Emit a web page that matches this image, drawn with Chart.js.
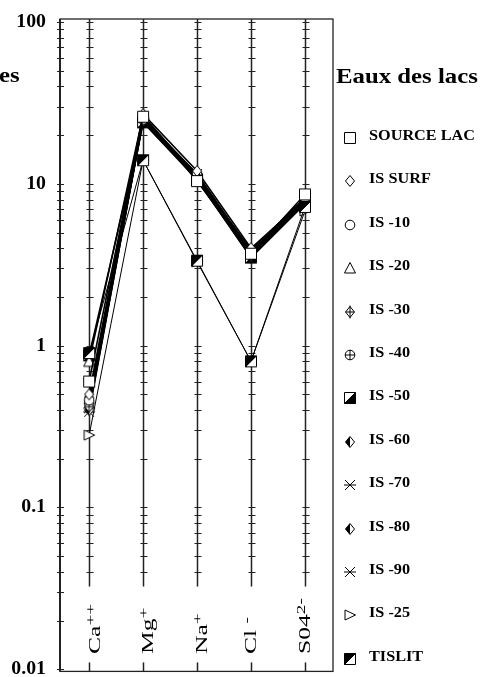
<!DOCTYPE html>
<html>
<head>
<meta charset="utf-8">
<script src="https://cdn.jsdelivr.net/npm/chart.js@4.4.0/dist/chart.umd.min.js"></script>
<style>
  html, body { margin: 0; padding: 0; background: #fff; }
  canvas { display: block; }
</style>
</head>
<body>
<canvas id="schoeller" width="483" height="677"></canvas>
<script>
// ions along the bottom (base text + superscript)
var ions = ['Ca++', 'Mg+', 'Na+', 'Cl -', 'S04 2-'];
var ionBase = ['Ca', 'Mg', 'Na', 'Cl ', 'S04'];
var ionSup = ['++', '+', '+', '-', '2-'];

// decade labels of the log axis
var yLabelValues = [100, 10, 1, 0.1, 0.01];
var yLabels = ['100', '10', '1', '0.1', '0.01'];

var seriesNames = ['SOURCE LAC', 'IS SURF', 'IS -10', 'IS -20', 'IS -30', 'IS -40',
  'IS -50', 'IS -60', 'IS -70', 'IS -80', 'IS -90', 'IS -25', 'TISLIT'];

// values per ion: Ca, Mg, Na, Cl, SO4
var sourceLac = [0.6, 26, 10.4, 3.7, 8.6];
var isSurf = [0.5, 27, 12, 4.0, 8.0];
var is10 = [0.46, 25, 11.5, 3.8, 7.8];
var is20 = [0.8, 26.5, 11, 3.9, 8.2];
var is30 = [0.42, 24.5, 11.2, 3.6, 7.7];
var is40 = [0.44, 25, 10.8, 3.7, 7.9];
var is50 = [0.87, 24, 10.6, 3.5, 7.6];
var is60 = [0.4, 24.5, 11, 3.6, 7.8];
var is70 = [0.41, 25.5, 11.5, 3.8, 8.0];
var is80 = [0.48, 24, 10.8, 3.5, 7.5];
var is90 = [0.39, 25, 11, 3.7, 7.7];
var is25 = [0.28, 14, 3.3, 0.8, 6.8];
var tislit = [0.9, 14, 3.35, 0.8, 7.2];

var seriesValues = [sourceLac, isSurf, is10, is20, is30, is40, is50, is60, is70, is80, is90, is25, tislit];
var seriesMarkers = ['square', 'diamond', 'circle', 'triangle', 'diamondPlus', 'circlePlus',
  'squareHalfLR', 'diamondHalf', 'asterisk', 'diamondHalf', 'asterisk', 'triangleRight', 'squareHalfUL'];

// minor ticks of the log axis (1..9 x 10^n)
var tickValues = [];
for (var n = -2; n <= 1; n++) {
  for (var k = 1; k <= 9; k++) tickValues.push(k * Math.pow(10, n));
}
tickValues.push(100);

var serif = '"Liberation Serif", "DejaVu Serif", serif';

function makeMarker(kind) {
  var c = document.createElement('canvas');
  c.width = 14; c.height = 14;
  var g = c.getContext('2d');
  g.strokeStyle = '#000';
  g.fillStyle = '#fff';
  g.lineWidth = 1;
  function poly(pts) {
    g.beginPath();
    g.moveTo(pts[0][0], pts[0][1]);
    for (var i = 1; i < pts.length; i++) g.lineTo(pts[i][0], pts[i][1]);
    g.closePath();
  }
  function seg(x1, y1, x2, y2) { g.beginPath(); g.moveTo(x1, y1); g.lineTo(x2, y2); g.stroke(); }
  var sq = [[1.5, 1.5], [12.5, 1.5], [12.5, 12.5], [1.5, 12.5]];
  var dia = [[7, 1.5], [11.5, 7], [7, 12.5], [2.5, 7]];
  if (kind === 'square') { poly(sq); g.fill(); g.stroke(); }
  if (kind === 'diamond') { poly(dia); g.fill(); g.stroke(); }
  if (kind === 'circle') { g.beginPath(); g.arc(7, 7, 4.8, 0, Math.PI * 2); g.fill(); g.stroke(); }
  if (kind === 'triangle') { poly([[7, 1.5], [12.5, 12], [1.5, 12]]); g.fill(); g.stroke(); }
  if (kind === 'triangleRight') { poly([[2, 2], [12.5, 7], [2, 12]]); g.fill(); g.stroke(); }
  if (kind === 'diamondPlus') {
    poly(dia); g.fill(); g.stroke();
    seg(7, 0.5, 7, 13.5); seg(2.5, 7, 11.5, 7);
  }
  if (kind === 'circlePlus') {
    g.beginPath(); g.arc(7, 7, 4.8, 0, Math.PI * 2); g.fill(); g.stroke();
    seg(7, 2, 7, 12); seg(2, 7, 12, 7);
  }
  if (kind === 'squareHalfLR' || kind === 'squareHalfUL') {
    poly(sq); g.fill();
    g.fillStyle = '#000';
    if (kind === 'squareHalfLR') poly([[12.5, 1.5], [12.5, 12.5], [1.5, 12.5]]);
    else poly([[1.5, 1.5], [12.5, 1.5], [1.5, 12.5]]);
    g.fill();
    poly(sq); g.stroke();
    seg(12.5, 1.5, 1.5, 12.5);
  }
  if (kind === 'diamondHalf') {
    poly(dia); g.fill();
    g.fillStyle = '#000';
    poly([[7, 1.5], [2.5, 7], [7, 12.5]]); g.fill();
    poly(dia); g.stroke();
  }
  if (kind === 'asterisk') {
    seg(2, 2, 12, 12); seg(12, 2, 2, 12); seg(1, 7, 13, 7);
  }
  return c;
}

function stretchText(c, txt, x, y, sx, align) {
  c.save();
  c.translate(x, y);
  c.scale(sx, 1);
  c.textAlign = align || 'left';
  c.fillText(txt, 0, 0);
  c.restore();
}

var markers = seriesMarkers.map(makeMarker);

var datasets = seriesNames.map(function(name, s) {
  var outlier = name === 'IS -25' || name === 'TISLIT';
  return {
    label: name,
    data: seriesValues[s].map(function(v, i) { return { x: i + 1, y: v }; }),
    borderColor: '#000',
    borderWidth: outlier ? 1 : 1.6,
    pointStyle: markers[s],
    tension: 0,
    fill: false,
    order: name === 'TISLIT' ? -1 : s
  };
});

// axes frame, tick crosses, labels and legend
var frame = {
  id: 'frame',
  beforeDatasetsDraw: function(chart) {
    var c = chart.ctx, a = chart.chartArea, xs = chart.scales.x, ys = chart.scales.y;
    function line(x1, y1, x2, y2) { c.beginPath(); c.moveTo(x1, y1); c.lineTo(x2, y2); c.stroke(); }
    c.save();
    c.strokeStyle = '#222';
    c.lineWidth = 1.3;
    c.strokeRect(a.left, a.top, a.right - a.left, a.bottom - a.top);
    c.lineWidth = 2;
    line(a.left, a.top, a.left, a.bottom);

    var lineEnd = ys.getPixelForValue(0.0325);
    var ionX = ions.map(function(n, i) { return Math.round(xs.getPixelForValue(i + 1)) + 0.5; });
    c.lineWidth = 1.5;
    ionX.forEach(function(px) {
      line(px, a.top, px, lineEnd);
      line(px, a.bottom - 9, px, a.bottom);
    });

    c.lineWidth = 1;
    tickValues.forEach(function(v) {
      var py = Math.round(ys.getPixelForValue(v)) + 0.5;
      line(a.left - 3, py, a.left + 4, py);
      if (py <= lineEnd + 1) {
        ionX.forEach(function(px) { line(px - 3, py, px + 4, py); });
      }
    });

    // decade labels
    c.fillStyle = '#000';
    c.font = 'bold 18px ' + serif;
    c.textBaseline = 'alphabetic';
    yLabelValues.forEach(function(v, i) {
      var py = ys.getPixelForValue(v);
      stretchText(c, yLabels[i], 46, Math.min(py + 5, 676), 1.1, 'right');
    });

    // rotated ion labels
    var ionDx = [10.5, 10, 9.5, 5, 5];
    ions.forEach(function(n, i) {
      c.save();
      c.translate(xs.getPixelForValue(i + 1) + ionDx[i], 654);
      c.rotate(-Math.PI / 2);
      c.scale(1.6, 1);
      c.textAlign = 'left';
      c.font = '16px ' + serif;
      c.fillText(ionBase[i], 0, 0);
      var w = c.measureText(ionBase[i]).width;
      c.font = '12px ' + serif;
      c.fillText(ionSup[i], w, -5);
      c.restore();
    });
    c.restore();
  },
  afterDraw: function(chart) {
    var c = chart.ctx;
    c.save();
    c.fillStyle = '#000';
    c.textBaseline = 'alphabetic';
    c.font = 'bold 21px ' + serif;
    stretchText(c, 'es', -1, 82, 1.18, 'left');
    stretchText(c, 'Eaux des lacs', 336, 83, 1.18, 'left');
    c.font = 'bold 14.5px ' + serif;
    chart.data.datasets.forEach(function(ds, i) {
      var base = 140 + 43.4 * i;
      c.drawImage(ds.pointStyle, 343, Math.round(base - 2 - 7));
      stretchText(c, ds.label, 369, base, 1.12, 'left');
    });
    c.restore();
  }
};

var ctx = document.getElementById('schoeller').getContext('2d');
new Chart(ctx, {
  type: 'line',
  data: { datasets: datasets },
  options: {
    responsive: false,
    animation: false,
    devicePixelRatio: 1,
    layout: { padding: { left: 60, right: 150, top: 19, bottom: 4 } },
    plugins: { legend: { display: false }, tooltip: { enabled: false } },
    scales: {
      x: { type: 'linear', min: 0.46, max: 5.52, display: false },
      y: { type: 'logarithmic', min: 0.0097, max: 104.4, bounds: 'data', display: false }
    }
  },
  plugins: [frame]
});
</script>
</body>
</html>
